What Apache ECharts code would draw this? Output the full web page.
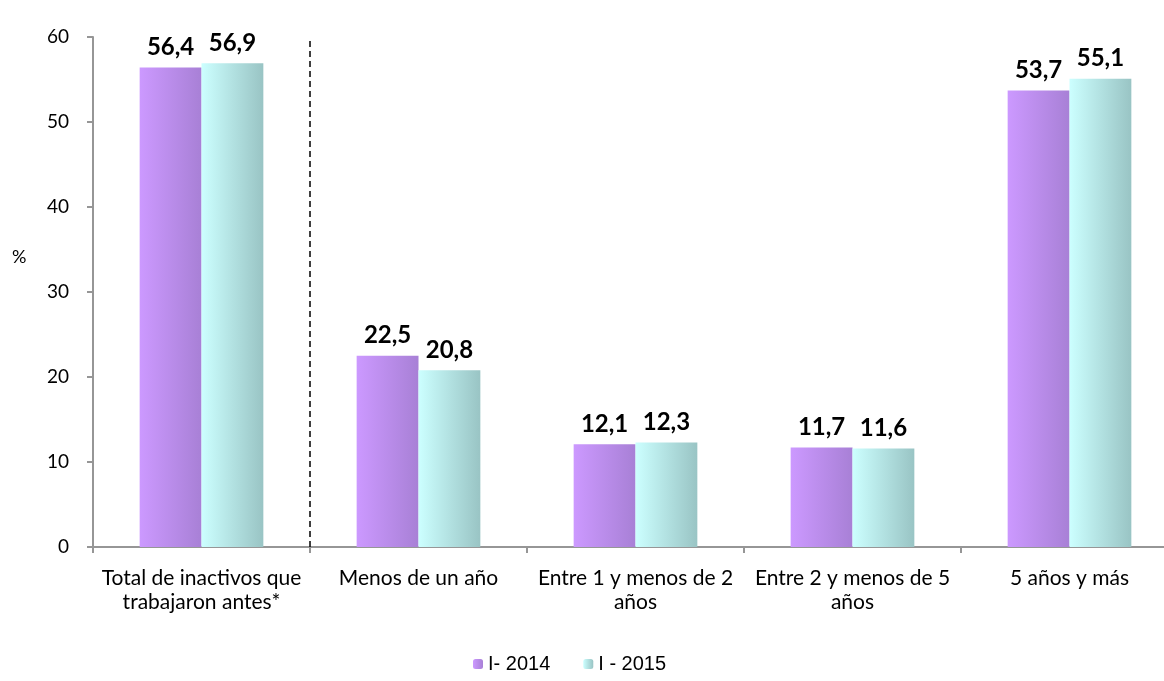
<!DOCTYPE html>
<html>
<head>
<meta charset="utf-8">
<script src="https://cdn.jsdelivr.net/npm/echarts@6/dist/echarts.min.js"></script>
<style>html,body{margin:0;padding:0;background:#fff;overflow:hidden}#c{width:1178px;height:681px}</style>
</head>
<body>
<div id="c"></div>
<script>
const categories = ["Total de inactivos que\ntrabajaron antes*", "Menos de un año", "Entre 1 y menos de 2\naños", "Entre 2 y menos de 5\naños", "5 años y más"];
const seriesNames = ["I- 2014", "I - 2015"];
const values2014 = [56.4, 22.5, 12.1, 11.7, 53.7];
const values2015 = [56.9, 20.8, 12.3, 11.6, 55.1];
const yTicks = [0, 10, 20, 30, 40, 50, 60];
const yAxisTitle = '%';
const dividerAfter = 1; // dashed separator after the first category

const chart = echarts.init(document.getElementById('c'), null, {renderer: 'canvas'});
const grad = (a, b) => new echarts.graphic.LinearGradient(0, 0, 1, 0, [{offset: 0, color: a}, {offset: 1, color: b}]);
const labelCfg = {
  show: true, position: 'top', distance: 8,
  fontFamily: 'Lato', fontWeight: 'bold', fontSize: 24, color: '#000',
  formatter: p => p.value.toFixed(1).replace('.', ',')
};
chart.setOption({
  animation: false,
  backgroundColor: '#fff',
  grid: {left: 93, right: 0, top: 37, bottom: 134, containLabel: false},
  legend: {
    bottom: 2, left: 468, itemWidth: 10, itemHeight: 10, itemGap: 33,
    textStyle: {fontFamily: 'Liberation Sans', fontSize: 20, color: '#000'},
    data: seriesNames
  },
  graphic: [{
    type: 'text', left: 12, top: 248,
    style: {text: yAxisTitle, fontFamily: 'Lato', fontSize: 18, fill: '#000'}
  }],
  xAxis: [{
    type: 'category', data: categories,
    axisLine: {lineStyle: {color: '#969696', width: 2}},
    axisTick: {show: true, length: 6, lineStyle: {color: '#969696', width: 2}},
    axisLabel: {fontFamily: 'Lato', fontSize: 21, color: '#000', margin: 19, lineHeight: 24, interval: 0}
  }, {
    type: 'value', min: 0, max: categories.length, show: false
  }],
  yAxis: {
    type: 'value', min: 0, max: 60, interval: 10,
    axisLine: {show: true, lineStyle: {color: '#969696', width: 2}},
    axisTick: {show: true, length: 6, lineStyle: {color: '#969696', width: 2}},
    axisLabel: {fontFamily: 'Lato', fontSize: 19, color: '#000', margin: 24,
      formatter: v => yTicks.includes(v) ? String(v) : ''},
    splitLine: {show: false}
  },
  series: [
    {
      name: seriesNames[0], type: 'bar', data: values2014, barGap: '0%', barCategoryGap: '43%',
      itemStyle: {color: grad('#CC99FF', '#A880D6')},
      label: labelCfg
    },
    {
      name: seriesNames[1], type: 'bar', data: values2015,
      itemStyle: {color: grad('#CCFFFF', '#99C4C4')},
      label: labelCfg
    },
    {
      name: 'divider', type: 'line', xAxisIndex: 1, data: [[dividerAfter, 0]],
      showSymbol: false, symbolSize: 0, lineStyle: {opacity: 0}, silent: true,
      markLine: {
        silent: true, symbol: 'none', label: {show: false},
        lineStyle: {color: '#000', type: [6, 4], width: 1.5},
        data: [{xAxis: dividerAfter}]
      }
    }
  ]
});
</script>
</body>
</html>
